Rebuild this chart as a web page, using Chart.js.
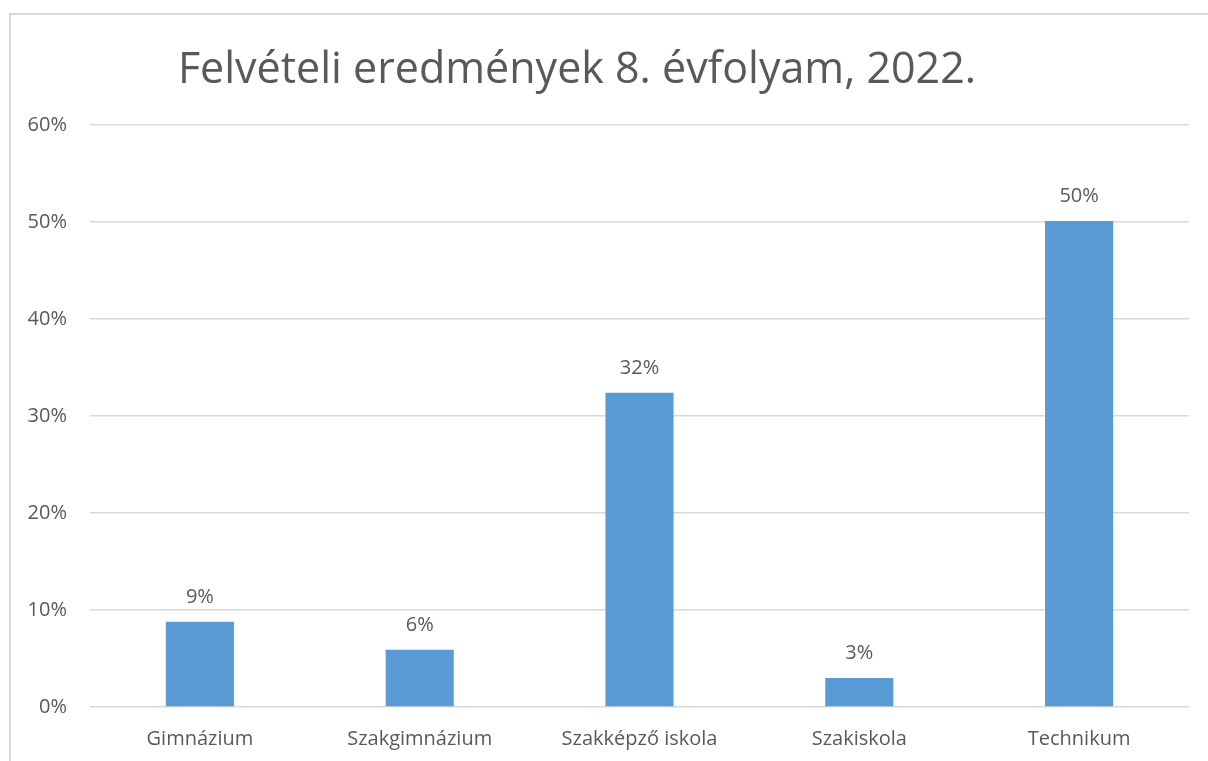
<!DOCTYPE html>
<html>
<head>
<meta charset="utf-8">
<script src="https://cdn.jsdelivr.net/npm/chart.js@4"></script>
<style>
  body { margin: 0; background: #fff; overflow: hidden; }
  #wrap { position: absolute; left: 0; top: 0; width: 1208px; height: 761px; }
  #frame { position: absolute; left: 9px; top: 13px; width: 1400px; height: 1000px;
           border-left: 2px solid #d9d9d9; border-top: 2px solid #d9d9d9; pointer-events: none; }
</style>
</head>
<body>
<div id="wrap"><canvas id="chart" width="1208" height="761"></canvas></div>
<div id="frame"></div>
<script>
const titleText = 'Felvételi eredmények 8. évfolyam, 2022.';
const categories = ['Gimnázium', 'Szakgimnázium', 'Szakképző iskola', 'Szakiskola', 'Technikum'];
const shares = [8.8, 5.9, 32.4, 3.0, 50.1];
const yTicks = [0, 10, 20, 30, 40, 50, 60];

const textColor = '#595959';
const fontFamily = '"Open Sans", "DejaVu Sans", sans-serif';

// values above the bars
const valueLabels = {
  id: 'valueLabels',
  afterDatasetsDraw(chart) {
    const ctx = chart.ctx;
    const meta = chart.getDatasetMeta(0);
    ctx.save();
    ctx.fillStyle = textColor;
    ctx.font = '20px ' + fontFamily;
    ctx.textAlign = 'center';
    ctx.textBaseline = 'alphabetic';
    meta.data.forEach((bar, i) => {
      ctx.fillText(Math.round(shares[i]) + '%', bar.x, bar.y - 19);
    });
    ctx.restore();
  }
};

// chart title, offset to the left like the original
const chartTitle = {
  id: 'chartTitle',
  afterDraw(chart) {
    const ctx = chart.ctx;
    ctx.save();
    ctx.fillStyle = textColor;
    ctx.font = '43px ' + fontFamily;
    ctx.textAlign = 'center';
    ctx.textBaseline = 'alphabetic';
    ctx.fillText(titleText, 577, 83);
    ctx.restore();
  }
};

new Chart(document.getElementById('chart'), {
  type: 'bar',
  data: {
    labels: categories,
    datasets: [{
      data: shares,
      backgroundColor: '#5b9bd5',
      barPercentage: 0.31,
      categoryPercentage: 1
    }]
  },
  options: {
    responsive: false,
    animation: false,
    layout: { padding: { left: 26, right: 19, top: 125, bottom: 0 } },
    plugins: {
      legend: { display: false },
      title: { display: false },
      tooltip: { enabled: false }
    },
    scales: {
      x: {
        grid: { display: false },
        border: { display: false },
        ticks: { color: textColor, font: { size: 20, family: fontFamily }, padding: 12, maxRotation: 0 },
        afterFit(axis) { axis.height = 54; }
      },
      y: {
        min: 0,
        max: 60,
        afterBuildTicks(axis) { axis.ticks = yTicks.map(v => ({ value: v })); },
        grid: { color: '#d9d9d9', lineWidth: 1.5, drawTicks: false },
        border: { display: false },
        ticks: {
          color: textColor,
          font: { size: 20, family: fontFamily },
          padding: 23,
          callback: v => v + '%'
        },
        afterFit(axis) { axis.width = 64; }
      }
    }
  },
  plugins: [valueLabels, chartTitle]
});
</script>
</body>
</html>
